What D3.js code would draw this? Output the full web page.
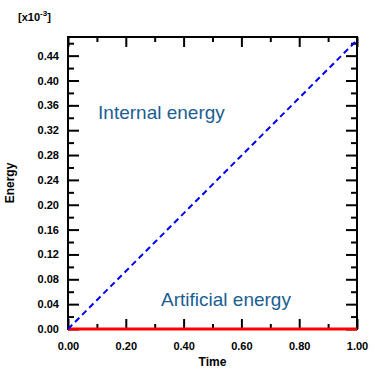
<!DOCTYPE html>
<html>
<head>
<meta charset="utf-8">
<script src="https://cdn.jsdelivr.net/npm/d3@7"></script>
<style>
  body { margin: 0; background: #fff; }
  svg text { font-family: "Liberation Sans", Arial, sans-serif; }
  .axis text { font-size: 11px; font-weight: bold; fill: #000; }
  .axis path { display: none; }
  .axis line { stroke: #000; stroke-width: 2; }
</style>
</head>
<body>
<svg class="chart" width="374" height="372"></svg>
<script>
// data (energy in units of 1e-3)
var time = [0, 1];
var internalEnergy = [0, 0.465];
var artificialEnergy = [0, 0];
var xTicks = [0, 0.2, 0.4, 0.6, 0.8, 1.0];
var xMinor = [0.1, 0.3, 0.5, 0.7, 0.9];
var yTicks = [0, 0.04, 0.08, 0.12, 0.16, 0.20, 0.24, 0.28, 0.32, 0.36, 0.40, 0.44];
var yMinor = [0.02, 0.06, 0.10, 0.14, 0.18, 0.22, 0.26, 0.30, 0.34, 0.38, 0.42, 0.46];

var m = {top: 37, right: 17, bottom: 43, left: 68};
var W = 374, H = 372;
var w = W - m.left - m.right, h = H - m.top - m.bottom;

var svg = d3.select('.chart');
var g = svg.append('g').attr('transform', 'translate(' + m.left + ',' + m.top + ')');

var x = d3.scaleLinear().domain([0, 1]).range([0, w]);
var y = d3.scaleLinear().domain([0, 0.47]).range([h, 0]);
var fmt = d3.format('.2f');

//-----  Frame  -----//
g.append('rect')
    .attr('width', w).attr('height', h)
    .attr('fill', 'none').attr('stroke', '#000').attr('stroke-width', 2);

//-----  Axes (ticks point inward)  -----//
g.append('g').attr('class', 'axis').attr('transform', 'translate(0,' + h + ')')
    .call(d3.axisBottom(x).tickValues(xTicks).tickSize(-10).tickPadding(13).tickFormat(fmt));
g.append('g').attr('class', 'axis').attr('transform', 'translate(0,' + h + ')')
    .call(d3.axisBottom(x).tickValues(xMinor).tickSize(-5).tickFormat(''));
g.append('g').attr('class', 'axis')
    .call(d3.axisTop(x).tickValues(xTicks).tickSize(-10).tickFormat(''));
g.append('g').attr('class', 'axis')
    .call(d3.axisTop(x).tickValues(xMinor).tickSize(-5).tickFormat(''));

g.append('g').attr('class', 'axis')
    .call(d3.axisLeft(y).tickValues(yTicks).tickSize(-11).tickPadding(9).tickFormat(fmt));
g.append('g').attr('class', 'axis')
    .call(d3.axisLeft(y).tickValues(yMinor).tickSize(-6).tickFormat(''));
g.append('g').attr('class', 'axis').attr('transform', 'translate(' + w + ',0)')
    .call(d3.axisRight(y).tickValues(yTicks).tickSize(-11).tickFormat(''));
g.append('g').attr('class', 'axis').attr('transform', 'translate(' + w + ',0)')
    .call(d3.axisRight(y).tickValues(yMinor).tickSize(-6).tickFormat(''));

//-----  Lines  -----//
var line = d3.line()
    .x(function(d, i) { return x(time[i]); })
    .y(function(d) { return y(d); });

g.append('path')
    .attr('d', line(artificialEnergy))
    .attr('fill', 'none')
    .attr('stroke', '#ff0000')
    .attr('stroke-width', 3);

g.append('path')
    .attr('d', line(internalEnergy))
    .attr('fill', 'none')
    .attr('stroke', '#0000ff')
    .attr('stroke-width', 2)
    .attr('stroke-dasharray', '6,4');

//-----  Labels  -----//
g.append('text').text('Internal energy')
    .attr('x', x(0.104)).attr('y', y(0.338))
    .attr('font-size', 19).attr('fill', '#1a5e92');
g.append('text').text('Artificial energy')
    .attr('x', x(0.322)).attr('y', y(0.037))
    .attr('font-size', 19).attr('fill', '#1a5e92');

svg.append('text').text('Time')
    .attr('x', m.left + w / 2).attr('y', 366)
    .attr('text-anchor', 'middle')
    .attr('font-size', 12).attr('font-weight', 'bold');

svg.append('text').text('Energy')
    .attr('transform', 'translate(14,' + (m.top + h / 2) + ') rotate(-90)')
    .attr('text-anchor', 'middle')
    .attr('font-size', 12).attr('font-weight', 'bold');

var mult = svg.append('text')
    .attr('x', 18).attr('y', 21)
    .attr('font-size', 11).attr('font-weight', 'bold');
mult.append('tspan').text('[x10');
mult.append('tspan').text('-3').attr('font-size', 8).attr('dy', -5);
mult.append('tspan').text(']').attr('dy', 5);
</script>
</body>
</html>
